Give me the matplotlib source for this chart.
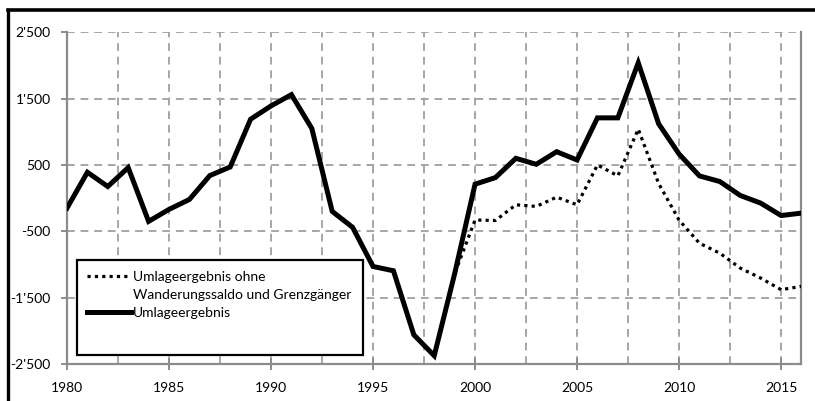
import numpy as np
import matplotlib.pyplot as plt
from matplotlib.lines import Line2D
from matplotlib.patches import Rectangle
from matplotlib.ticker import FuncFormatter, MultipleLocator

plt.rcParams['font.family'] = ['Lato', 'DejaVu Sans']

years = list(range(1980, 2017))

# Umlageergebnis
umlage = [-150, 390, 175, 460, -350, -170, -20, 340, 470, 1190, 1390, 1560,
          1050, -200, -440, -1030, -1095, -2060, -2375, -1140, 210, 310,
          600, 510, 700, 575, 1210, 1210, 2040, 1120, 665, 335, 250, 40,
          -75, -262, -226]

# Umlageergebnis ohne Wanderungssaldo und Grenzgaenger (identical up to 1999)
umlage_ohne = umlage[:20] + [-330, -337, -100, -125, 15, -100, 500, 336,
                             1040, 220, -330, -680, -830, -1055, -1205,
                             -1380, -1330]

y_ticks = [-2500, -1500, -500, 500, 1500, 2500]

fig = plt.figure(figsize=(8.15, 4.01), dpi=100)
ax = fig.add_axes([0.0822, 0.0923, 0.9012, 0.8272])

grid_col = '#a6a6a6'
spine_col = '#8c8c8c'

ax.set_xlim(1980, 2016)
ax.set_ylim(-2500, 2500)
ax.set_yticks(y_ticks)
ax.xaxis.set_major_locator(MultipleLocator(5))
ax.xaxis.set_minor_locator(MultipleLocator(2.5))
ax.yaxis.set_major_formatter(FuncFormatter(lambda v, p: f"{int(v):,}".replace(',', "'")))

ax.grid(True, which='both', axis='x', color=grid_col, linestyle=(0, (4, 3)), linewidth=1.4)
ax.grid(True, which='major', axis='y', color=grid_col, linestyle=(0, (4, 3)), linewidth=1.4)
ax.set_axisbelow(True)

for side in ['left', 'bottom', 'right']:
    ax.spines[side].set_color(spine_col)
    ax.spines[side].set_linewidth(1.6)
ax.spines['top'].set_visible(False)

ax.tick_params(axis='y', direction='out', length=4.3, width=1.4, color=spine_col,
               labelsize=10, pad=7.5)
ax.tick_params(axis='x', which='major', direction='inout', length=8, width=1.4,
               color=spine_col, labelsize=10, pad=9)
ax.tick_params(axis='x', which='minor', length=0)

ax.plot(years, umlage_ohne, color='black', linewidth=2.3,
        linestyle=(0, (1, 1.3)), zorder=3)
ax.plot(years, umlage, color='black', linewidth=3.6,
        solid_joinstyle='miter', zorder=4)

# legend: framed box with extra room at the bottom, as in the original
ax.add_patch(Rectangle((0.0136, 0.027), 0.403 - 0.0136, 0.3135 - 0.027,
                       transform=ax.transAxes, facecolor='white',
                       edgecolor='black', linewidth=1.6, zorder=5))
handles = [Line2D([], [], color='black', linewidth=2.3, linestyle=(0, (1, 1.3))),
           Line2D([], [], color='none'),
           Line2D([], [], color='black', linewidth=3.6)]
labels = ['Umlageergebnis ohne', 'Wanderungssaldo und Grenzgänger', 'Umlageergebnis']
leg = ax.legend(handles, labels, loc='upper left', bbox_to_anchor=(0.0272, 0.280),
                fontsize=10, frameon=False, handlelength=3.2, handletextpad=0.1,
                borderpad=0, labelspacing=0.44, borderaxespad=0)
leg.set_zorder(6)

# outer frame (left and top edges)
W, H = 815, 401
fig.add_artist(Line2D([8 / W, 8 / W], [0, 1 - 10 / H], color='black', linewidth=2.4,
                      transform=fig.transFigure))
fig.add_artist(Line2D([8 / W, 1], [1 - 10 / H, 1 - 10 / H], color='black', linewidth=2.6,
                      transform=fig.transFigure))

fig.savefig('out.png', dpi=100)
